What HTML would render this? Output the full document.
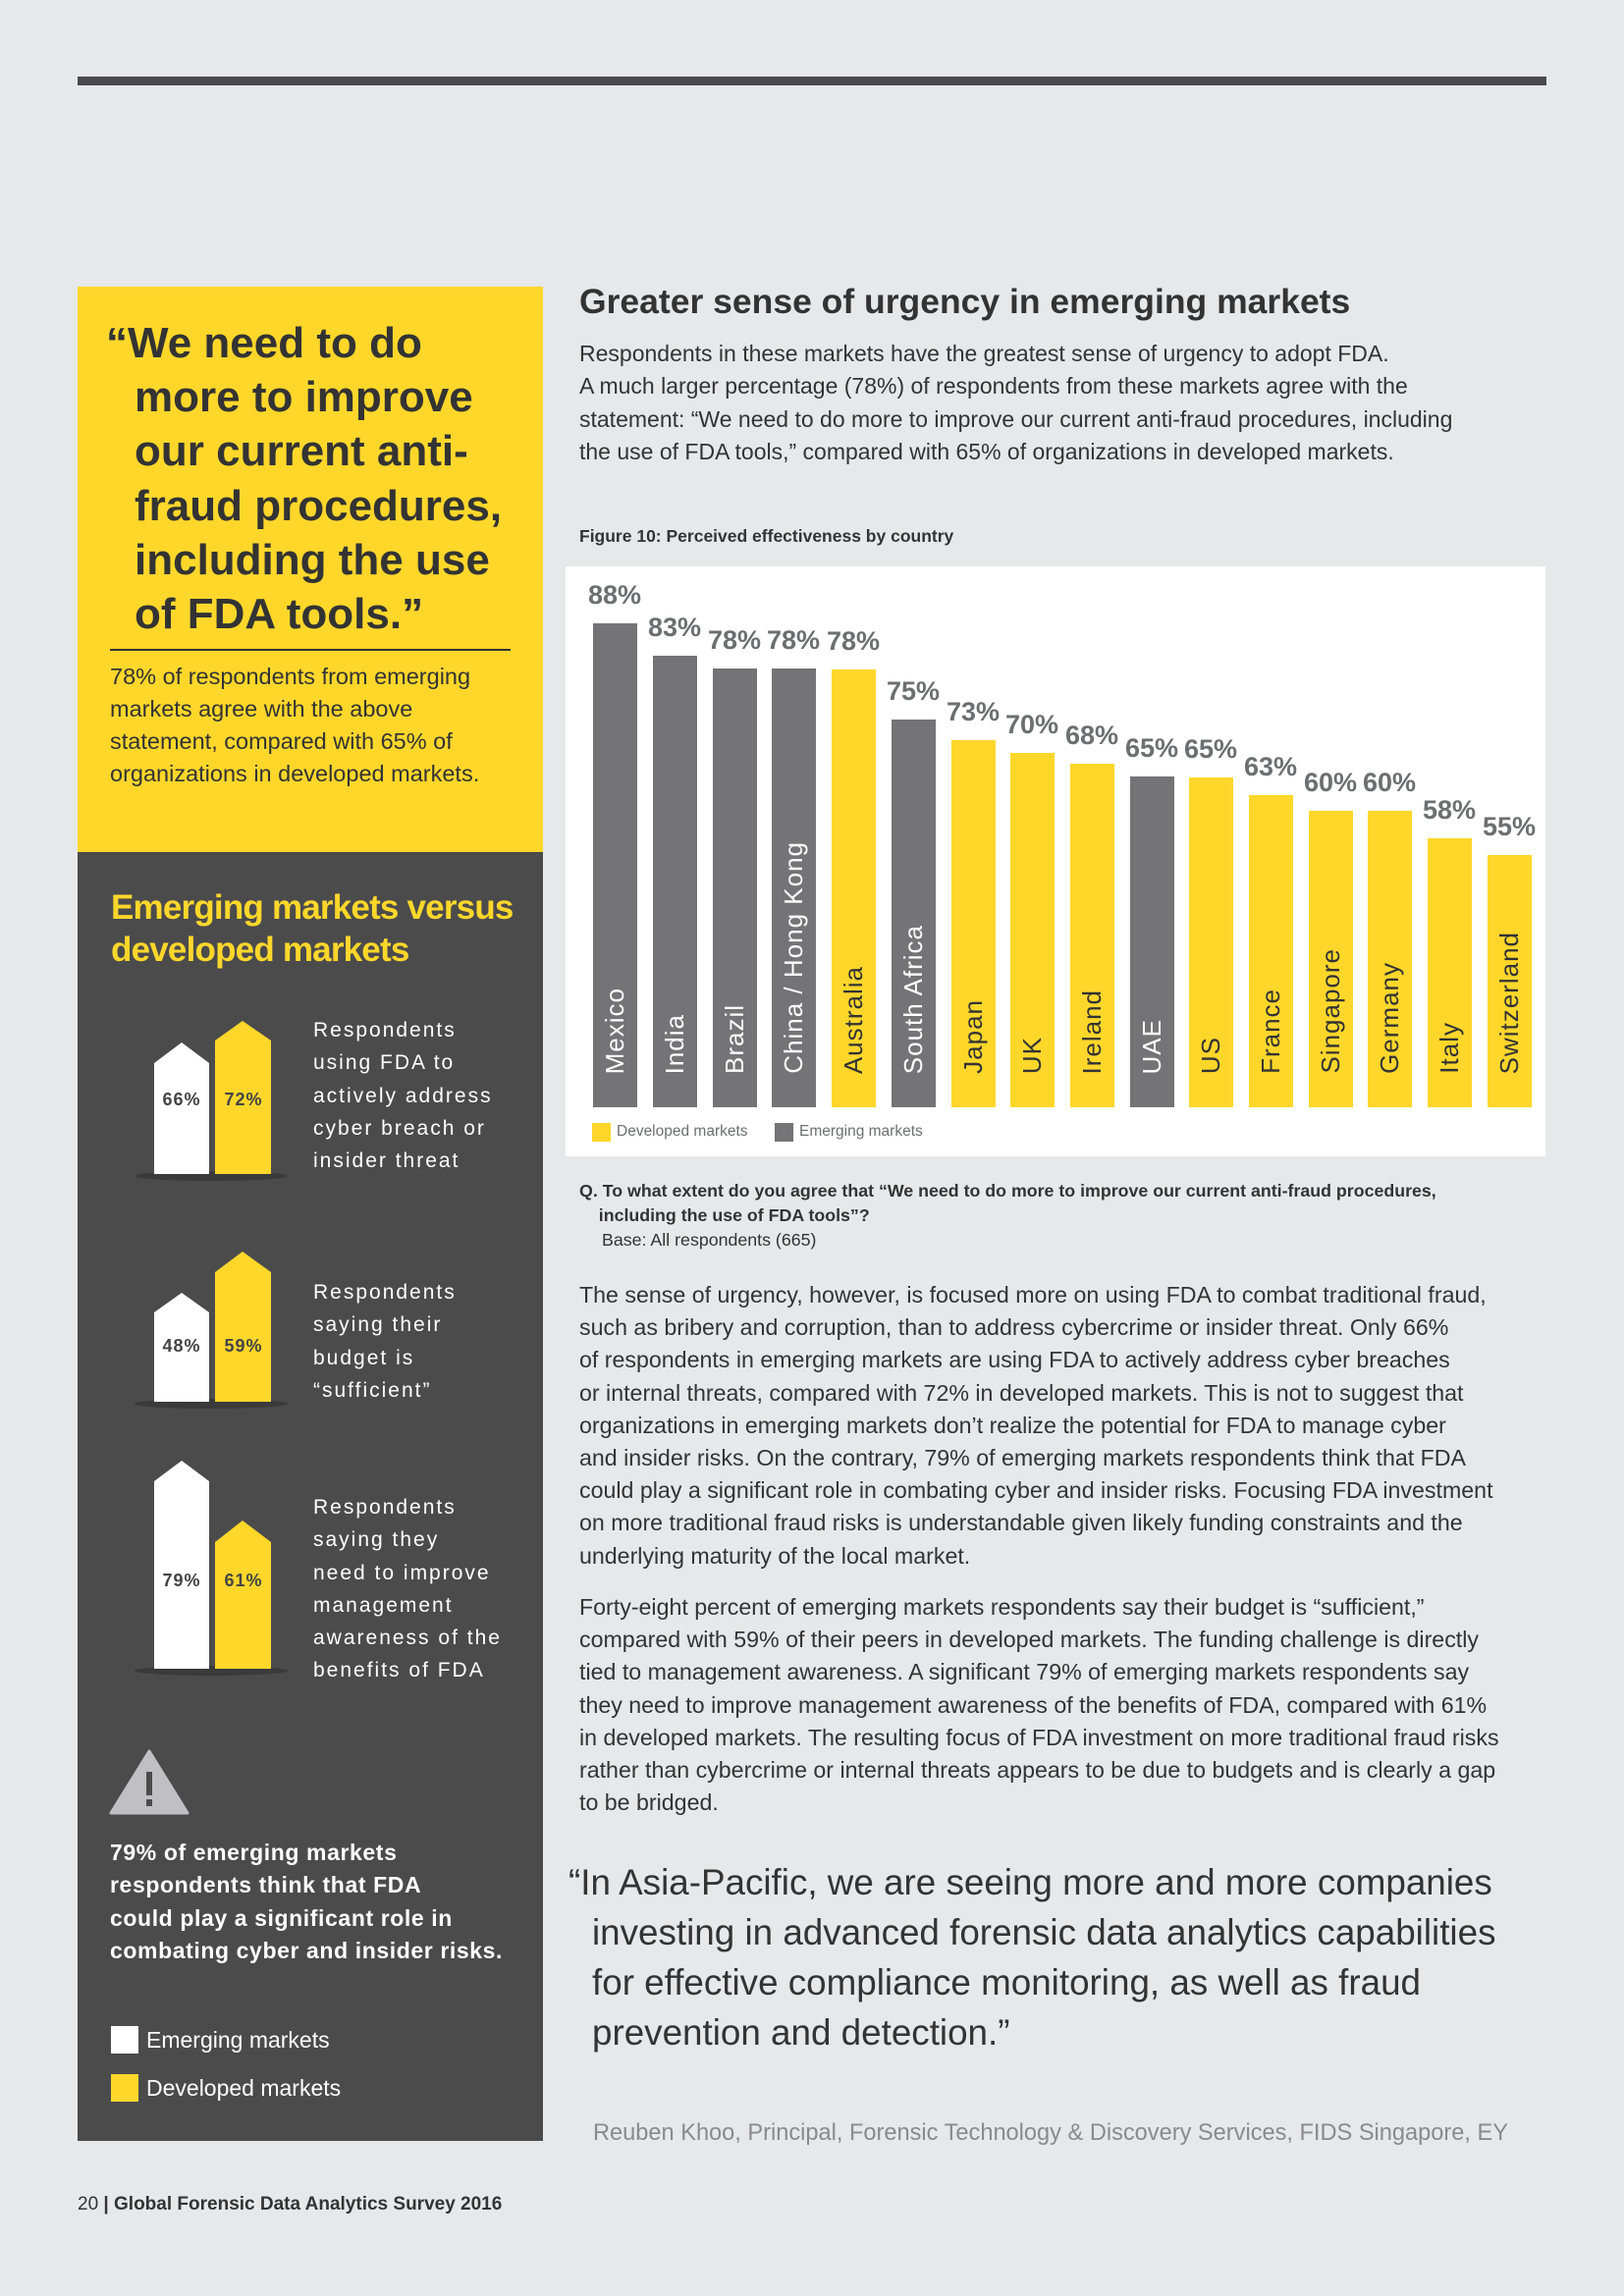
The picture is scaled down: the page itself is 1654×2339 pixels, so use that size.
<!DOCTYPE html>
<html><head><meta charset="utf-8"><style>
*{margin:0;padding:0;box-sizing:border-box}
body{width:1654px;height:2339px;background:#e7e8e9;position:relative;overflow:hidden;font-family:"Liberation Sans",sans-serif;color:#333}
.a{position:absolute;white-space:nowrap}
.bar{position:absolute;width:45px}
.g{background:#747477}.y{background:#ffd72b}
.lbl{position:absolute;width:70px;text-align:center;font-family:"Liberation Sans Narrow","Liberation Sans",sans-serif;font-weight:bold;font-size:27px;color:#6d6e71}
.cn{position:absolute;bottom:34px;left:0;width:45px;writing-mode:vertical-rl;transform:rotate(180deg);font-size:26px;letter-spacing:1px;line-height:45px;text-align:left}
.g .cn{color:#fff}.y .cn{color:#333}
.it{color:#fff;font-size:21px;letter-spacing:2px;line-height:33.3px}
</style></head><body>
<div class="a" style="left:79px;top:78px;width:1496px;height:9px;background:#4a4a4c"></div>

<div class="a" style="left:79px;top:292px;width:474px;height:576px;background:#ffd72b"></div>
<div class="a" style="left:112px;top:322px;font-size:44px;font-weight:bold;line-height:55.2px;color:#333"><span style="margin-left:-4px">“</span>We need to do<br><span style="margin-left:25px">more to improve</span><br><span style="margin-left:25px">our current anti-</span><br><span style="margin-left:25px">fraud procedures,</span><br><span style="margin-left:25px">including the use</span><br><span style="margin-left:25px">of FDA tools.”</span></div>
<div class="a" style="left:112px;top:661px;width:408px;height:2px;background:#333"></div>
<div class="a" style="left:112px;top:673px;font-size:23.5px;line-height:33px;color:#333">78% of respondents from emerging<br>markets agree with the above<br>statement, compared with 65% of<br>organizations in developed markets.</div>

<div class="a" style="left:79px;top:868px;width:474px;height:1313px;background:#4b4b4c"></div>
<div class="a" style="left:113px;top:903px;font-size:35px;font-weight:bold;line-height:43px;color:#ffd72b;letter-spacing:-0.8px">Emerging markets versus<br>developed markets</div>
<svg class="a" style="left:0;top:0" width="560" height="2339">
<g fill="#3a3a3b"><ellipse cx="215" cy="1198" rx="78" ry="5"/><ellipse cx="215" cy="1430" rx="78" ry="5"/><ellipse cx="215" cy="1702" rx="78" ry="5"/></g>
<polygon fill="#fff" points="157,1196 157,1083 185,1062 213,1083 213,1196"/>
<polygon fill="#ffd72b" points="219,1196 219,1060 247,1040 276,1060 276,1196"/>
<polygon fill="#fff" points="157,1428 157,1337 185,1317 213,1337 213,1428"/>
<polygon fill="#ffd72b" points="219,1428 219,1296 247,1275 276,1296 276,1428"/>
<polygon fill="#fff" points="157,1700 157,1509 185,1488 213,1509 213,1700"/>
<polygon fill="#ffd72b" points="219,1700 219,1571 247,1549 276,1571 276,1700"/>
<g font-family="Liberation Sans" font-weight="bold" font-size="18" fill="#444" text-anchor="middle" letter-spacing="1">
<text x="185" y="1126">66%</text><text x="248" y="1126">72%</text>
<text x="185" y="1377">48%</text><text x="248" y="1377">59%</text>
<text x="185" y="1616">79%</text><text x="248" y="1616">61%</text></g>
<path d="M154,1847 L193,1784 L232,1847 Z" fill="#c0c0c2" stroke="#c0c0c2" stroke-width="3" stroke-linejoin="round" transform="translate(-41,0)"/>
<rect x="149" y="1805" width="6" height="24" fill="#4b4b4c"/><rect x="149" y="1833" width="6" height="7" fill="#4b4b4c"/>
</svg>
<div class="a it" style="left:319px;top:1033px">Respondents<br>using FDA to<br>actively address<br>cyber breach or<br>insider threat</div>
<div class="a it" style="left:319px;top:1300px">Respondents<br>saying their<br>budget is<br>“sufficient”</div>
<div class="a it" style="left:319px;top:1519px">Respondents<br>saying they<br>need to improve<br>management<br>awareness of the<br>benefits of FDA</div>
<div class="a" style="left:112px;top:1871px;font-size:23px;font-weight:bold;color:#fff;line-height:33.3px;letter-spacing:0.6px">79% of emerging markets<br>respondents think that FDA<br>could play a significant role in<br>combating cyber and insider risks.</div>
<div class="a" style="left:113px;top:2064px;width:28px;height:28px;background:#fff"></div>
<div class="a" style="left:149px;top:2064px;font-size:23px;color:#fff;line-height:28px">Emerging markets</div>
<div class="a" style="left:113px;top:2113px;width:28px;height:28px;background:#ffd72b"></div>
<div class="a" style="left:149px;top:2113px;font-size:23px;color:#fff;line-height:28px">Developed markets</div>

<div class="a" style="left:590px;top:287px;font-size:35.5px;font-weight:bold;line-height:40px;color:#333">Greater sense of urgency in emerging markets</div>
<div class="a" style="left:590px;top:344px;font-size:23px;line-height:33.3px;color:#333">Respondents in these markets have the greatest sense of urgency to adopt FDA.<br>A much larger percentage (78%) of respondents from these markets agree with the<br>statement: “We need to do more to improve our current anti-fraud procedures, including<br>the use of FDA tools,” compared with 65% of organizations in developed markets.</div>
<div class="a" style="left:590px;top:535px;font-size:17.5px;font-weight:bold;line-height:22px;color:#333">Figure 10: Perceived effectiveness by country</div>

<div class="a" style="left:576px;top:577px;width:998px;height:601px;background:#fff"></div>
<div class="a" style="left:0;top:0;width:1654px;height:1200px">
<div class="bar g" style="left:604px;top:635px;height:493px"><span class="cn">Mexico</span></div>
<div class="bar g" style="left:665px;top:668px;height:460px"><span class="cn">India</span></div>
<div class="bar g" style="left:726px;top:681px;height:447px"><span class="cn">Brazil</span></div>
<div class="bar g" style="left:786px;top:681px;height:447px"><span class="cn">China / Hong Kong</span></div>
<div class="bar y" style="left:847px;top:682px;height:446px"><span class="cn">Australia</span></div>
<div class="bar g" style="left:908px;top:733px;height:395px"><span class="cn">South Africa</span></div>
<div class="bar y" style="left:969px;top:754px;height:374px"><span class="cn">Japan</span></div>
<div class="bar y" style="left:1029px;top:767px;height:361px"><span class="cn">UK</span></div>
<div class="bar y" style="left:1090px;top:778px;height:350px"><span class="cn">Ireland</span></div>
<div class="bar g" style="left:1151px;top:791px;height:337px"><span class="cn">UAE</span></div>
<div class="bar y" style="left:1211px;top:792px;height:336px"><span class="cn">US</span></div>
<div class="bar y" style="left:1272px;top:810px;height:318px"><span class="cn">France</span></div>
<div class="bar y" style="left:1333px;top:826px;height:302px"><span class="cn">Singapore</span></div>
<div class="bar y" style="left:1393px;top:826px;height:302px"><span class="cn">Germany</span></div>
<div class="bar y" style="left:1454px;top:854px;height:274px"><span class="cn">Italy</span></div>
<div class="bar y" style="left:1515px;top:871px;height:257px"><span class="cn">Switzerland</span></div>
<div class="lbl" style="left:591px;top:591px">88%</div>
<div class="lbl" style="left:652px;top:624px">83%</div>
<div class="lbl" style="left:713px;top:637px">78%</div>
<div class="lbl" style="left:773px;top:637px">78%</div>
<div class="lbl" style="left:834px;top:638px">78%</div>
<div class="lbl" style="left:895px;top:689px">75%</div>
<div class="lbl" style="left:956px;top:710px">73%</div>
<div class="lbl" style="left:1016px;top:723px">70%</div>
<div class="lbl" style="left:1077px;top:734px">68%</div>
<div class="lbl" style="left:1138px;top:747px">65%</div>
<div class="lbl" style="left:1198px;top:748px">65%</div>
<div class="lbl" style="left:1259px;top:766px">63%</div>
<div class="lbl" style="left:1320px;top:782px">60%</div>
<div class="lbl" style="left:1380px;top:782px">60%</div>
<div class="lbl" style="left:1441px;top:810px">58%</div>
<div class="lbl" style="left:1502px;top:827px">55%</div>
</div>
<div class="a" style="left:603px;top:1144px;width:19px;height:19px;background:#ffd72b"></div>
<div class="a" style="left:628px;top:1143px;font-size:15.5px;line-height:20px;color:#6d6e71">Developed markets</div>
<div class="a" style="left:789px;top:1144px;width:19px;height:19px;background:#747477"></div>
<div class="a" style="left:814px;top:1143px;font-size:15.5px;line-height:20px;color:#6d6e71">Emerging markets</div>

<div class="a" style="left:590px;top:1201px;font-size:17.8px;font-weight:bold;line-height:25px;color:#333">Q. To what extent do you agree that “We need to do more to improve our current anti-fraud procedures,<br>&nbsp;&nbsp;&nbsp;&nbsp;including the use of FDA tools”?</div>
<div class="a" style="left:613px;top:1251px;font-size:17.8px;line-height:25px;color:#333">Base: All respondents (665)</div>

<div class="a" style="left:590px;top:1303px;font-size:23.2px;line-height:33.2px;color:#333">The sense of urgency, however, is focused more on using FDA to combat traditional fraud,<br>such as bribery and corruption, than to address cybercrime or insider threat. Only 66%<br>of respondents in emerging markets are using FDA to actively address cyber breaches<br>or internal threats, compared with 72% in developed markets. This is not to suggest that<br>organizations in emerging markets don’t realize the potential for FDA to manage cyber<br>and insider risks. On the contrary, 79% of emerging markets respondents think that FDA<br>could play a significant role in combating cyber and insider risks. Focusing FDA investment<br>on more traditional fraud risks is understandable given likely funding constraints and the<br>underlying maturity of the local market.</div>
<div class="a" style="left:590px;top:1621px;font-size:23.2px;line-height:33.2px;color:#333">Forty-eight percent of emerging markets respondents say their budget is “sufficient,”<br>compared with 59% of their peers in developed markets. The funding challenge is directly<br>tied to management awareness. A significant 79% of emerging markets respondents say<br>they need to improve management awareness of the benefits of FDA, compared with 61%<br>in developed markets. The resulting focus of FDA investment on more traditional fraud risks<br>rather than cybercrime or internal threats appears to be due to budgets and is clearly a gap<br>to be bridged.</div>

<div class="a" style="left:579px;top:1892px;font-size:36.8px;line-height:51px;color:#333">“In Asia-Pacific, we are seeing more and more companies<br><span style="margin-left:24px">investing in advanced forensic data analytics capabilities</span><br><span style="margin-left:24px">for effective compliance monitoring, as well as fraud</span><br><span style="margin-left:24px">prevention and detection.”</span></div>
<div class="a" style="left:604px;top:2158px;font-size:23.6px;line-height:30px;color:#8a8a8c">Reuben Khoo, Principal, Forensic Technology &amp; Discovery Services, FIDS Singapore, EY</div>
<div class="a" style="left:79px;top:2234px;font-size:19px;line-height:24px;color:#333">20 <b>| Global Forensic Data Analytics Survey 2016</b></div>
</body></html>
